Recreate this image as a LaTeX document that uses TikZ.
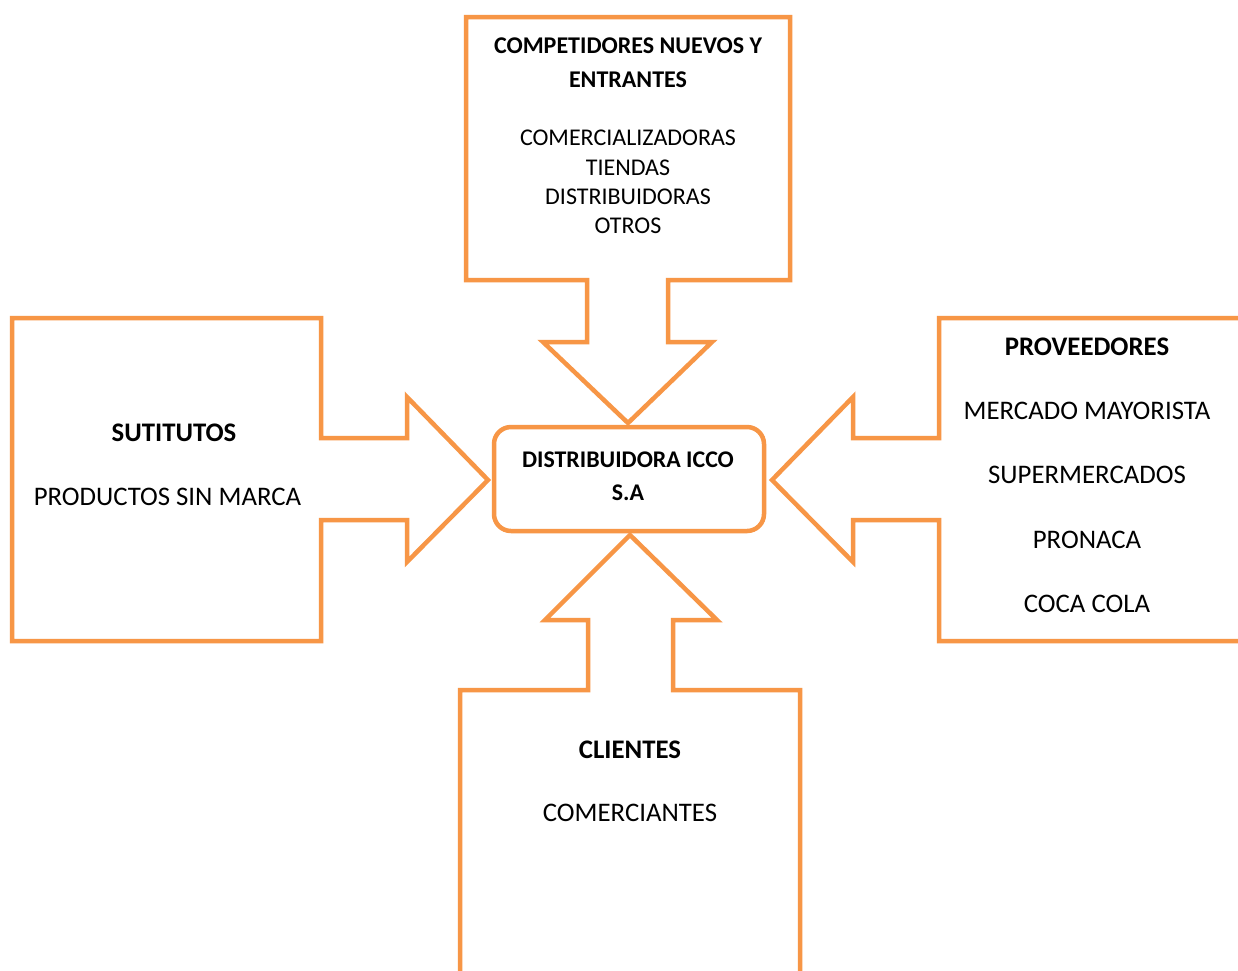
\documentclass[tikz,border=0pt]{standalone}
\usepackage{fontspec}
\setmainfont{Carlito}
\definecolor{accent}{RGB}{247,150,70}
\tikzset{
  callout/.style={draw=accent, line width=4.5pt, line join=miter, fill=white},
  hd/.style={inner sep=0pt, font=\bfseries\fontsize{#1}{#1}\selectfont},
  tx/.style={inner sep=0pt, font=\fontsize{#1}{#1}\selectfont},
}
\begin{document}
\begin{tikzpicture}[x=1pt,y=-1pt]
\useasboundingbox (0,0) rectangle (1238,970);
\clip (0,0) rectangle (1238,970);
\fill[white] (0,0) rectangle (1238,970);
% top callout
\draw[callout] (466,17) -- (790,17) -- (790,280) -- (668,280) -- (668,342) -- (712,342)
  -- (628,423) -- (543,342) -- (587,342) -- (587,280) -- (466,280) -- cycle;
% left callout
\draw[callout] (12,318) -- (321,318) -- (321,438) -- (407,438) -- (407,397) -- (488,480)
  -- (407,562) -- (407,520) -- (321,520) -- (321,641) -- (12,641) -- cycle;
% right callout
\draw[callout] (1260,318) -- (939,318) -- (939,438) -- (853,438) -- (853,397) -- (772,480)
  -- (853,562) -- (853,520) -- (939,520) -- (939,641) -- (1260,641) -- cycle;
% bottom callout
\draw[callout] (460,1000) -- (460,690) -- (588,690) -- (588,620) -- (545,620) -- (630,535)
  -- (717,620) -- (673,620) -- (673,690) -- (800,690) -- (800,1000) -- cycle;
% center
\node[draw=accent, line width=4.5pt, rounded corners=17pt, minimum width=270pt,
  minimum height=104pt, inner sep=0pt, fill=white] (icco) at (629,479) {};
\node[hd=23.9] (icco1) at (628,460) {DISTRIBUIDORA ICCO};
\node[hd=23.9] (icco2) at (628,493) {S.A};
% top texts
\node[hd=24] (comp1) at (628,46) {COMPETIDORES NUEVOS Y};
\node[hd=24] (comp2) at (628,80) {ENTRANTES};
\node[tx=24] (comp3) at (628,138) {COMERCIALIZADORAS};
\node[tx=24] (comp4) at (628,168) {TIENDAS};
\node[tx=24] (comp5) at (628,197) {DISTRIBUIDORAS};
\node[tx=24] (comp6) at (628,226) {OTROS};
% left texts
\node[hd=26.8] (sust1) at (174,433) {SUTITUTOS};
\node[tx=26.8] (sust2) at (167.5,497) {PRODUCTOS SIN MARCA};
% right texts
\node[hd=26.8] (prov1) at (1087,347) {PROVEEDORES};
\node[tx=26.8] (prov2) at (1087,411) {MERCADO MAYORISTA};
\node[tx=26.8] (prov3) at (1087,475) {SUPERMERCADOS};
\node[tx=26.8] (prov4) at (1087,540) {PRONACA};
\node[tx=26.8] (prov5) at (1087,604) {COCA COLA};
% bottom texts
\node[hd=26.8] (cli1) at (630,750) {CLIENTES};
\node[tx=26.8] (cli2) at (630,813) {COMERCIANTES};
\end{tikzpicture}
\end{document}
